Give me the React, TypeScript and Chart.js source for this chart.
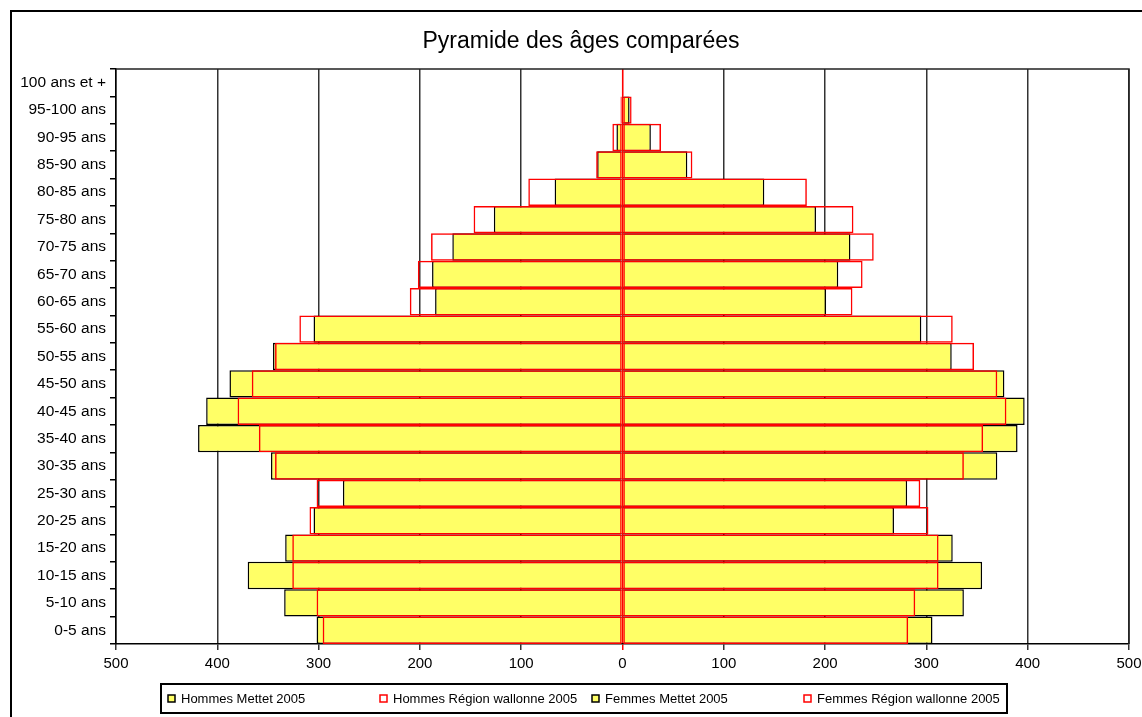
import React, { useEffect, useRef } from "react";
import { Chart, registerables } from "chart.js";

Chart.register(...registerables);

const ageGroups = [
  "0-5 ans", "5-10 ans", "10-15 ans", "15-20 ans", "20-25 ans", "25-30 ans",
  "30-35 ans", "35-40 ans", "40-45 ans", "45-50 ans", "50-55 ans", "55-60 ans",
  "60-65 ans", "65-70 ans", "70-75 ans", "75-80 ans", "80-85 ans", "85-90 ans",
  "90-95 ans", "95-100 ans", "100 ans et +",
];

// Men are stored as negative values (left side of the pyramid)
const hommesMettet = [
  -302, -334, -370, -333, -305, -276, -347, -419, -411, -388, -345, -305,
  -185, -188, -168, -127, -67, -25, -6, -1, 0,
];
const hommesRegion = [
  -296, -302, -326, -326, -309, -302, -343, -359, -380, -366, -343, -319,
  -210, -202, -189, -147, -93, -26, -10, -2, -1,
];
const femmesMettet = [
  306, 337, 355, 326, 268, 281, 370, 390, 397, 377, 325, 295,
  201, 213, 225, 191, 140, 64, 28, 7, 0,
];
const femmesRegion = [
  282, 289, 312, 312, 302, 294, 337, 356, 379, 370, 347, 326,
  227, 237, 248, 228, 182, 69, 38, 9, 1,
];

const xTickValues = [-500, -400, -300, -200, -100, 0, 100, 200, 300, 400, 500];

const titleText = "Pyramide des âges comparées";
const seriesLabels = [
  "Hommes Mettet 2005",
  "Hommes Région wallonne 2005",
  "Femmes Mettet 2005",
  "Femmes Région wallonne 2005",
];

const YELLOW = "#FFFF66";
const RED = "#FF0000";
const FONT = '"Liberation Sans", Arial, sans-serif';

const titlePlugin = {
  id: "customTitle",
  afterDraw(chart: any) {
    const ctx = chart.ctx;
    ctx.save();
    ctx.font = `23px ${FONT}`;
    ctx.fillStyle = "#000";
    ctx.textAlign = "center";
    ctx.textBaseline = "middle";
    ctx.fillText(titleText, 581, 42);
    ctx.restore();
  },
};

const frameTopPlugin = {
  id: "plotFrame",
  beforeDatasetsDraw(chart: any) {
    const { ctx, chartArea } = chart;
    ctx.save();
    ctx.strokeStyle = "#222";
    ctx.lineWidth = 1.5;
    ctx.beginPath();
    ctx.moveTo(chartArea.left, chartArea.top);
    ctx.lineTo(chartArea.right, chartArea.top);
    ctx.lineTo(chartArea.right, chartArea.bottom);
    ctx.stroke();
    ctx.restore();
  },
};

const boxLegendPlugin = {
  id: "boxLegend",
  afterDraw(chart: any) {
    const ctx = chart.ctx;
    const datasets = chart.data.datasets;
    ctx.save();
    ctx.strokeStyle = "#000";
    ctx.lineWidth = 2;
    ctx.strokeRect(161, 684, 846, 29);
    ctx.font = `13px ${FONT}`;
    ctx.textBaseline = "middle";
    ctx.textAlign = "left";
    datasets.forEach((ds: any, i: number) => {
      const x = 168 + i * 212;
      const y = 695;
      ctx.fillStyle = ds.backgroundColor === "transparent" ? "#fff" : ds.backgroundColor;
      ctx.fillRect(x, y, 7, 7);
      ctx.strokeStyle = ds.borderColor;
      ctx.lineWidth = 1.5;
      ctx.strokeRect(x, y, 7, 7);
      ctx.fillStyle = "#000";
      ctx.fillText(ds.label, x + 13, y + 4);
    });
    ctx.restore();
  },
};

export default function App() {
  const canvasRef = useRef<HTMLCanvasElement | null>(null);

  useEffect(() => {
    const canvas = canvasRef.current;
    if (!canvas) return;
    const chart = new Chart(canvas, {
      type: "bar",
      data: {
        labels: ageGroups,
        datasets: [
          {
            label: seriesLabels[0],
            data: hommesMettet,
            backgroundColor: YELLOW,
            borderColor: "#000",
            borderWidth: 1.5,
            borderSkipped: "start",
            order: 2,
          },
          {
            label: seriesLabels[1],
            data: hommesRegion,
            backgroundColor: "transparent",
            borderColor: RED,
            borderWidth: 1.5,
            borderSkipped: false,
            order: 1,
          },
          {
            label: seriesLabels[2],
            data: femmesMettet,
            backgroundColor: YELLOW,
            borderColor: "#000",
            borderWidth: 1.5,
            borderSkipped: "start",
            order: 2,
          },
          {
            label: seriesLabels[3],
            data: femmesRegion,
            backgroundColor: "transparent",
            borderColor: RED,
            borderWidth: 1.5,
            borderSkipped: false,
            order: 1,
          },
        ],
      },
      options: {
        indexAxis: "y",
        animation: false,
        responsive: false,
        maintainAspectRatio: false,
        devicePixelRatio: 1,
        datasets: {
          bar: {
            grouped: false,
            categoryPercentage: 1,
            barPercentage: 1,
            inflateAmount: 0,
          },
        },
        layout: { padding: { left: 10, right: 13, top: 69, bottom: 0 } },
        plugins: {
          legend: { display: false },
          tooltip: { enabled: false },
          title: { display: false },
        },
        scales: {
          x: {
            type: "linear",
            min: -500,
            max: 500,
            afterBuildTicks: (scale: any) => {
              scale.ticks = xTickValues.map((v) => ({ value: v }));
            },
            afterFit: (scale: any) => {
              scale.height = 73;
              scale.paddingLeft = 0;
              scale.paddingRight = 0;
            },
            ticks: {
              color: "#000",
              font: { family: FONT, size: 15 },
              padding: 5,
              maxRotation: 0,
              callback: (v: any) => String(Math.abs(Number(v))),
            },
            grid: {
              color: (c: any) => (c.tick && c.tick.value === 0 ? RED : "#333"),
              lineWidth: 1.5,
              drawTicks: true,
              tickLength: 6,
            },
            border: { display: true, color: "#000", width: 1.5 },
          },
          y: {
            type: "category",
            reverse: true,
            offset: true,
            afterFit: (scale: any) => {
              scale.width = 106;
            },
            ticks: {
              color: "#000",
              font: { family: FONT, size: 15.5 },
              padding: 4,
              autoSkip: false,
            },
            grid: {
              offset: true,
              drawOnChartArea: false,
              drawTicks: true,
              tickLength: 6,
              color: "#000",
              lineWidth: 1.5,
            },
            border: { display: true, color: "#000", width: 1.5 },
          },
        },
      },
      plugins: [frameTopPlugin, titlePlugin, boxLegendPlugin],
    } as any);
    return () => chart.destroy();
  }, []);

  return (
    <div
      style={{
        position: "fixed",
        left: 0,
        top: 0,
        width: 1142,
        height: 717,
        overflow: "hidden",
        background: "#fff",
      }}
    >
      <div
        style={{
          position: "absolute",
          left: 10,
          top: 10,
          width: 1300,
          height: 900,
          border: "2px solid #000",
          boxSizing: "border-box",
        }}
      />
      <canvas
        ref={canvasRef}
        width={1142}
        height={717}
        style={{ position: "absolute", left: 0, top: 0, display: "block" }}
      />
    </div>
  );
}
